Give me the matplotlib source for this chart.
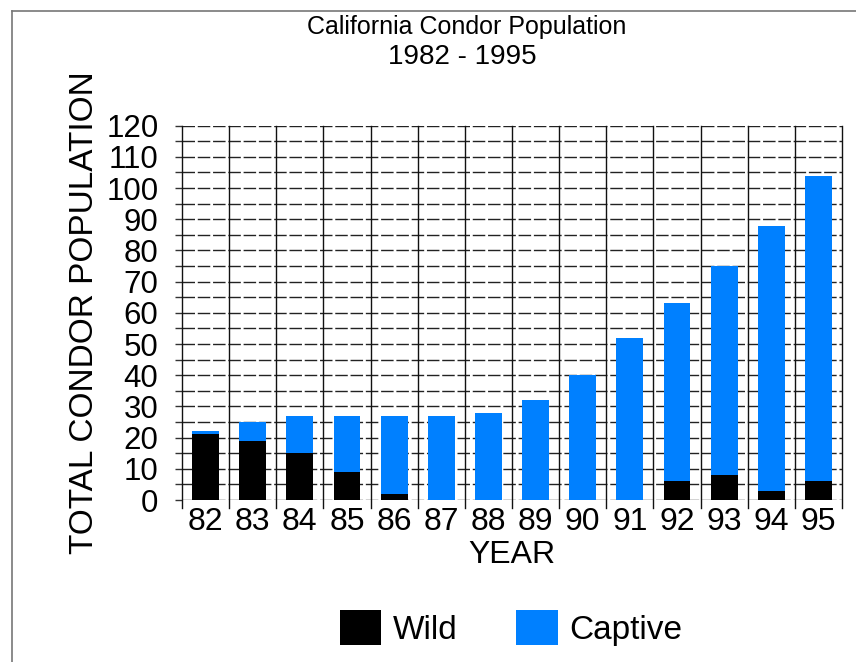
import numpy as np
import matplotlib.pyplot as plt
from matplotlib.lines import Line2D

plt.rcParams['font.family'] = ['Liberation Sans', 'DejaVu Sans']

years = ['82', '83', '84', '85', '86', '87', '88', '89', '90', '91', '92', '93', '94', '95']
wild = [21, 19, 15, 9, 2, 0, 0, 0, 0, 0, 6, 8, 3, 6]
captive = [1, 6, 12, 18, 25, 27, 28, 32, 40, 52, 57, 67, 85, 98]

blue = '#0080ff'

fig = plt.figure(figsize=(8.56, 6.62), dpi=100)
ax = fig.add_axes([182 / 856, 1 - 500 / 662, 660 / 856, 374.3 / 662])

x = np.arange(len(years))
ax.bar(x, wild, width=0.57, color='black', label='Wild', zorder=3)
ax.bar(x, captive, width=0.57, bottom=wild, color=blue, label='Captive', zorder=3)

ax.set_xlim(-0.5, len(years) - 0.5)
ax.set_ylim(0, 120)
ax.set_yticks(np.arange(0, 121, 10))
ax.set_yticks(np.arange(0, 121, 5), minor=True)
ax.set_xticks(x)
ax.set_xticklabels(years)
ax.tick_params(axis='y', labelsize=22.5, length=5, width=1, direction='out',
               color='#333333', pad=12)
ax.tick_params(axis='y', which='minor', length=5, width=1, color='#333333')
ax.tick_params(axis='x', labelsize=23, length=0, pad=5)

# horizontal grid every 5
for v in np.arange(5, 121, 5):
    ax.axhline(v, color='#222222', lw=1.0, ls=(0, (9, 2)), zorder=1)

# vertical separators, running a little below the axis
for b in np.arange(-0.5, len(years), 1.0):
    ax.add_line(Line2D([b, b], [-2.6, 120], color='#111111', lw=1.0,
                       clip_on=False, zorder=2))

for s in ax.spines.values():
    s.set_visible(False)
ax.axhline(0, color='#222222', lw=1.0, ls=(0, (9, 2)), zorder=1)

ax.set_xlabel('YEAR', fontsize=23, labelpad=2)
fig.text(85 / 856, 1 - 313 / 662, 'TOTAL CONDOR POPULATION', rotation=90,
         fontsize=24, ha='center', va='center')

fig.text(467 / 856, 1 - 27 / 662, 'California Condor Population', fontsize=18,
         ha='center', va='center')
fig.text(462 / 856, 1 - 57 / 662, '1982 - 1995', fontsize=20,
         ha='center', va='center')

handles, labels = ax.get_legend_handles_labels()
fig.legend(handles, labels, ncol=2, loc='center', bbox_to_anchor=(511 / 856, 1 - 628 / 662),
           fontsize=24, frameon=False, handlelength=1.25, handleheight=1.2,
           handletextpad=0.35, columnspacing=1.75)

# partial frame around the picture
fig.add_artist(Line2D([12 / 856, 12 / 856], [0, 1 - 11 / 662], color='#777777', lw=1.2,
                      transform=fig.transFigure))
fig.add_artist(Line2D([12 / 856, 1], [1 - 11 / 662, 1 - 11 / 662], color='#777777', lw=1.2,
                      transform=fig.transFigure))

fig.savefig('out.png', dpi=100)
